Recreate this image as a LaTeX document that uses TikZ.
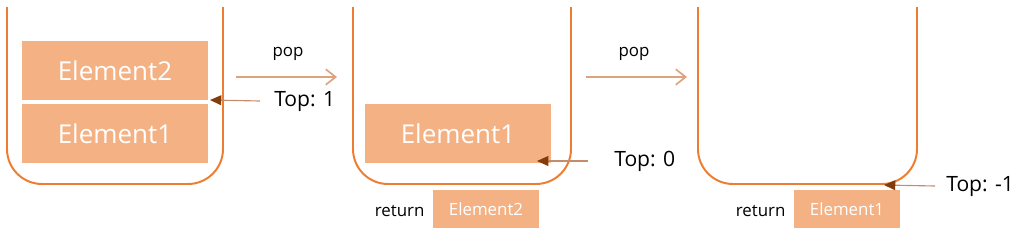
\documentclass[tikz,border=0pt]{standalone}
\usepackage{fontspec}
\setmainfont{Open Sans}
\usetikzlibrary{positioning,arrows.meta}
\definecolor{stkOrange}{RGB}{237,125,49}
\definecolor{stkFill}{RGB}{244,177,131}
\definecolor{stkArrow}{RGB}{222,162,124}
\definecolor{stkBrown}{RGB}{132,60,12}
\definecolor{stkLine}{RGB}{196,140,106}

\begin{document}
\begin{tikzpicture}[x=0.025cm, y=-0.025cm,
  stack/.style={draw=stkOrange, line width=1.4pt, rounded corners=0.875cm},
  elem/.style={fill=stkFill, text=white, font=\fontsize{18.5}{20}\selectfont,
               minimum width=4.65cm, minimum height=1.475cm, inner sep=0},
  ret/.style={fill=stkFill, text=white, font=\fontsize{12}{14}\selectfont,
              minimum width=2.65cm, minimum height=0.95cm, inner sep=0},
  lbl/.style={font=\fontsize{12}{14}\selectfont, inner sep=0},
  toplbl/.style={font=\fontsize{15}{17}\selectfont, inner sep=0, anchor=west},
  poparr/.style={-{Straight Barb[length=7pt, width=11pt]}, line width=1.2pt, stkArrow},
  toparr/.style={-{Triangle[length=8pt, width=7pt, color=stkBrown]}, line width=0.8pt, stkLine}
]
\useasboundingbox (0,0) rectangle (1024,233);
% the three stacks
\draw[stack] (7,7) -- (7,184) -- (223,184) -- (223,7);
\draw[stack] (353,7) -- (353,184) -- (571,184) -- (571,7);
\draw[stack] (698,7) -- (698,184) -- (917,184) -- (917,7);

% first stack
\node[elem] (E2a) at (115,70.5) {Element2};
\node[elem] (E1a) at (115,133.5) {Element1};
% second stack
\node[elem] (E1b) at (458,133.5) {Element1};
\node[ret] (R2) at (486,209) {Element2};
\node[lbl, left=0.2cm of R2, yshift=-0.05cm] (ret2) {return};
% third stack
\node[ret] (R1) at (847,209) {Element1};
\node[lbl, left=0.2cm of R1, yshift=-0.05cm] (ret1) {return};

% pop arrows
\coordinate (p1s) at (236,77);
\coordinate (p1e) at (337,77);
\coordinate (p2s) at (586,77);
\coordinate (p2e) at (687,77);
\node[lbl] (pop1) at (288,54) {pop};
\node[lbl] (pop2) at (634,54) {pop};
\draw[poparr] (p1s) -- (p1e);
\draw[poparr] (p2s) -- (p2e);

% top pointers
\node[toplbl] (T1) at (274,101) {Top: 1};
\node[toplbl] (T0) at (614,161) {Top: 0};
\node[toplbl] (Tm1) at (946,186) {Top: -1};
\coordinate (tip1) at (210,100);
\coordinate (tip0) at (537,161);
\coordinate (tipm1) at (884,185);
\draw[toparr] ([xshift=-0.35cm]T1.west) -- (tip1);
\draw[toparr] ([xshift=-0.65cm]T0.west) -- (tip0);
\draw[toparr] ([xshift=-0.275cm]Tm1.west) -- (tipm1);
\end{tikzpicture}
\end{document}
